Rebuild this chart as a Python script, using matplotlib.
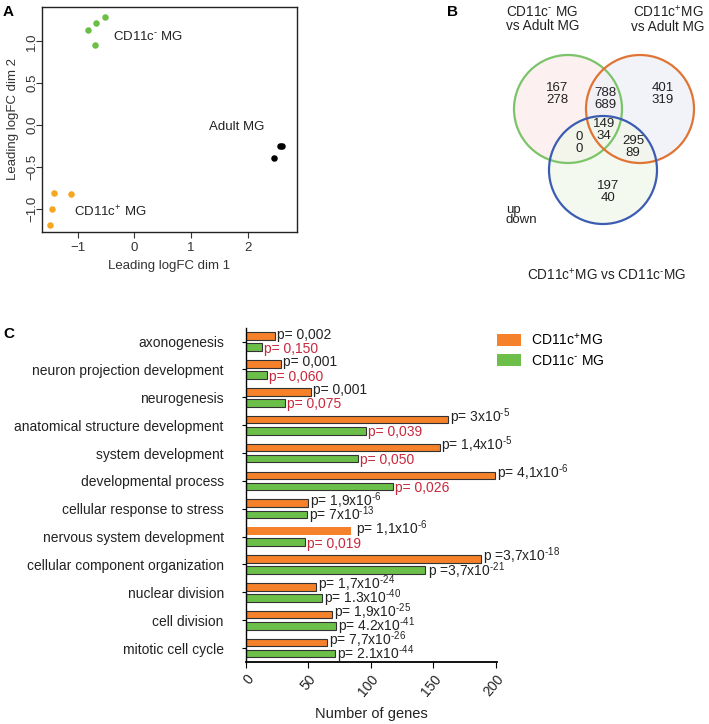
import matplotlib
matplotlib.use("Agg")
import matplotlib.pyplot as plt
from matplotlib.patches import Circle
import numpy as np

plt.rcParams['font.family'] = ['Liberation Sans', 'DejaVu Sans']
plt.rcParams['mathtext.fontset'] = 'custom'
plt.rcParams['mathtext.rm'] = 'Liberation Sans'
plt.rcParams['mathtext.it'] = 'Liberation Sans:italic'
plt.rcParams['mathtext.bf'] = 'Liberation Sans:bold'

HY = "\u2010"
NEG = "CD11c$^{" + HY + "}$"
POS = "CD11c$^{+}$"

# ---------------- Panel A data (MDS) ----------------
neg_x = [-0.81, -0.68, -0.51, -0.70]
neg_y = [1.14, 1.22, 1.29, 0.96]
adult_x = [2.61, 2.57, 2.47]
adult_y = [-0.25, -0.25, -0.40]
pos_x = [-1.41, -1.11, -1.45, -1.49]
pos_y = [-0.81, -0.82, -1.01, -1.20]

# ---------------- Panel B data (Venn) ----------------
only_neg = (167, 278)
only_pos = (401, 319)
only_pp = (197, 40)
neg_pos = (788, 689)
neg_pp = (0, 0)
pos_pp = (295, 89)
all_three = (149, 34)

# ---------------- Panel C data ----------------
categories = ["axonogenesis", "neuron projection development", "neurogenesis",
              "anatomical structure development", "system development",
              "developmental process", "cellular response to stress",
              "nervous system development", "cellular component organization",
              "nuclear division", "cell division", "mitotic cell cycle"]
pos_counts = [23, 28, 52, 162, 155, 199.5, 50, 84, 188, 56, 69, 65]
neg_counts = [13, 17, 31, 96, 90, 118, 49, 47, 143, 61, 72, 71]
pos_pvals = ["p= 0,002", "p= 0,001", "p= 0,001", "p= 3x10$^{" + HY + "5}$",
             "p= 1,4x10$^{" + HY + "5}$", "p= 4,1x10$^{" + HY + "6}$",
             "p= 1,9x10$^{" + HY + "6}$", "p= 1,1x10$^{" + HY + "6}$",
             "p =3,7x10$^{" + HY + "18}$", "p= 1,7x10$^{" + HY + "24}$",
             "p= 1,9x10$^{" + HY + "25}$", "p= 7,7x10$^{" + HY + "26}$"]
neg_pvals = ["p= 0,150", "p= 0,060", "p= 0,075", "p= 0,039", "p= 0,050", "p= 0,026",
             "p= 7x10$^{" + HY + "13}$", "p= 0,019", "p =3,7x10$^{" + HY + "21}$",
             "p= 1.3x10$^{" + HY + "40}$", "p= 4.2x10$^{" + HY + "41}$",
             "p= 2.1x10$^{" + HY + "44}$"]
neg_p_significant = [False, False, False, False, False, False, True, False, True, True, True, True]

W, H = 709, 724
fig = plt.figure(figsize=(W / 100, H / 100), dpi=100)

def fx(px):
    return px / W

def fy(py):
    return 1 - py / H

TXT = '#222222'

# ================= Panel A =================
axA = fig.add_axes([fx(42), fy(232), fx(297) - fx(42), fy(7) - fy(232)])
axA.scatter(neg_x, neg_y, s=22, color='#6cbf45', zorder=3, linewidths=0)
axA.scatter(adult_x, adult_y, s=22, color='black', zorder=3, linewidths=0)
axA.scatter(pos_x, pos_y, s=22, color='#f5a623', zorder=3, linewidths=0)
axA.set_xlim(-1.63, 2.87)
axA.set_ylim(-1.28, 1.41)
axA.set_xticks([-1, 0, 1, 2])
axA.set_xticklabels(["\u22121", "0", "1", "2"])
axA.set_yticks([-1.0, -0.5, 0.0, 0.5, 1.0])
axA.set_yticklabels(["\u22121.0", "\u22120.5", "0.0", "0.5", "1.0"], rotation=90,
                    va='center', ha='center')
axA.tick_params(labelsize=9.5, length=4, colors='#333333', labelcolor='#333333')
axA.tick_params(axis='y', pad=3)
for s in axA.spines.values():
    s.set_color('#222222')
    s.set_linewidth(1.0)
axA.set_xlabel("Leading logFC dim 1", fontsize=9.5, color='#333333', labelpad=4)
axA.set_ylabel("Leading logFC dim 2", fontsize=9.5, color='#333333')
axA.yaxis.set_label_coords(-(42 - 19) / 255, 0.5)
axA.text(-0.38, 1.06, NEG + " MG", fontsize=9.5, ha='left', va='center', color=TXT)
axA.text(1.81, -0.02, "Adult MG", fontsize=9.5, ha='center', va='center', color=TXT)
axA.text(-1.07, -1.04, POS + " MG", fontsize=9.5, ha='left', va='center', color=TXT)
fig.text(fx(3), fy(12), "A", fontsize=11, fontweight='bold', ha='left', va='center')

# ================= Panel B =================
axB = fig.add_axes([fx(480), fy(290), fx(709) - fx(480), fy(0) - fy(290)])
axB.set_xlim(480, 709)
axB.set_ylim(290, 0)
axB.axis('off')
r = 54
circ = [((568, 109), '#fbecec', '#7cc46a'),
        ((640, 109), '#eef0f8', '#e07434'),
        ((603, 170), '#f1f7ea', '#3c5cb2')]
for c, fc, ec in circ:
    axB.add_patch(Circle(c, r, facecolor=fc, edgecolor='none', alpha=0.75, zorder=1))
for c, fc, ec in circ:
    axB.add_patch(Circle(c, r, facecolor='none', edgecolor=ec, linewidth=1.6, zorder=2))

def venn_txt(x, y, pair):
    axB.text(x, y, f"{pair[0]}\n{pair[1]}", ha='center', va='center', fontsize=9.5,
             linespacing=0.9, color=TXT, zorder=3)

venn_txt(557, 94, only_neg)
venn_txt(605, 99, neg_pos)
venn_txt(663, 94, only_pos)
venn_txt(604, 130, all_three)
venn_txt(579, 143, neg_pp)
venn_txt(633, 147, pos_pp)
venn_txt(608, 192, only_pp)
axB.text(506, 215, "up\ndown", ha='left', va='center', fontsize=9.5, linespacing=0.85, color=TXT)
axB.text(506, 19, NEG + " MG\nvs Adult MG", ha='left', va='center', fontsize=9.8,
         linespacing=1.0, color=TXT)
axB.text(668, 19, POS + "MG\nvs Adult MG", ha='center', va='center', fontsize=9.8,
         linespacing=1.0, color=TXT)
axB.text(607, 275, POS + "MG vs " + NEG + "MG", ha='center', va='center', fontsize=9.8,
         color=TXT)
fig.text(fx(447), fy(12), "B", fontsize=11, fontweight='bold', ha='left', va='center')

# ================= Panel C =================
axC = fig.add_axes([fx(246), fy(662), fx(497) - fx(246), fy(327.7) - fy(662)])
orange = '#f5822a'
green = '#6cc04a'
red = '#c8283c'
n = len(categories)
yy = np.arange(n)
h = 0.27
off = 0.2
edge_pos = ['#333333'] * n
lw_pos = [0.8] * n
lw_pos[categories.index("nervous system development")] = 0
axC.barh(yy - off, pos_counts, height=h, color=orange, edgecolor=edge_pos, linewidth=lw_pos,
         label=POS + "MG", zorder=2)
axC.barh(yy + off, neg_counts, height=h, color=green, edgecolor='#333333', linewidth=0.8,
         label=NEG + " MG", zorder=2)
axC.set_ylim(n - 0.5, -0.5)
axC.set_xlim(0, 201)
axC.set_yticks(yy)
axC.set_yticklabels(categories, fontsize=10, color=TXT)
axC.tick_params(axis='y', length=3, pad=13)
axC.set_xticks([0, 50, 100, 150, 200])
axC.set_xticklabels(["0", "50", "100", "150", "200"], rotation=50, ha='right',
                    rotation_mode='anchor', fontsize=10, color=TXT)
axC.tick_params(axis='x', length=4, pad=3)
for s in ['top', 'right']:
    axC.spines[s].set_visible(False)
axC.spines['left'].set_linewidth(1.0)
axC.spines['bottom'].set_linewidth(1.3)
axC.set_xlabel("Number of genes", fontsize=10.5, color=TXT, labelpad=6)

for i in range(n):
    gap = 1.5
    if categories[i] == "nervous system development":
        gap = 4
    axC.text(pos_counts[i] + gap, i - off + 0.09, pos_pvals[i], fontsize=10, ha='left',
             va='baseline', color=TXT, zorder=3)
    col = TXT if neg_p_significant[i] else red
    g2 = 1.5
    if categories[i] == "cellular component organization":
        g2 = 3
    axC.text(neg_counts[i] + g2, i + off + 0.2, neg_pvals[i], fontsize=10, ha='left',
             va='baseline', color=col, zorder=3)

axw = fx(497) - fx(246)
leg = axC.legend(loc='upper left', bbox_to_anchor=((fx(497) - fx(246)) / axw, 0.987),
                 bbox_transform=axC.transAxes, frameon=False, fontsize=10,
                 handlelength=1.7, handleheight=0.9, labelspacing=0.4, handletextpad=0.75,
                 borderaxespad=0, borderpad=0)
for p in leg.get_patches():
    p.set_linewidth(0)
fig.text(fx(3), fy(334), "C", fontsize=11, fontweight='bold', ha='left', va='center')

fig.savefig("out.png", dpi=100)
